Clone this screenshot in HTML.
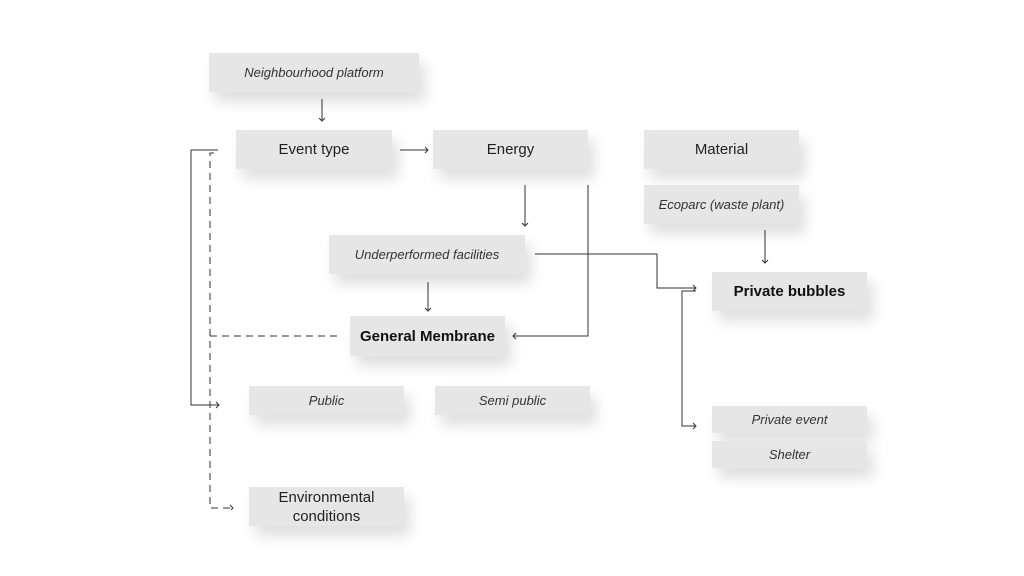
<!DOCTYPE html>
<html><head><style>
body{margin:0;width:1024px;height:576px;background:#fff;position:relative;overflow:hidden;font-family:"Liberation Sans",sans-serif;}
.b{position:absolute;background:#e6e6e6;box-shadow:6px 10px 14px rgba(0,0,0,0.13);display:flex;align-items:center;justify-content:center;text-align:center;color:#222;}
.i{font-style:italic;font-size:13px;color:#333;}
.n{font-size:15px;}
.bo{font-weight:bold;font-size:15px;color:#111;}
svg{position:absolute;left:0;top:0;}
</style></head><body>
<div class="b i" style="left:209px;top:53px;width:210px;height:39px">Neighbourhood platform</div>
<div class="b n" style="left:236px;top:130px;width:156px;height:39px">Event type</div>
<div class="b n" style="left:433px;top:130px;width:155px;height:39px">Energy</div>
<div class="b n" style="left:644px;top:130px;width:155px;height:39px">Material</div>
<div class="b i" style="left:644px;top:185px;width:155px;height:39px">Ecoparc (waste plant)</div>
<div class="b i" style="left:329px;top:235px;width:196px;height:39px">Underperformed facilities</div>
<div class="b bo" style="left:350px;top:316px;width:155px;height:40px">General Membrane</div>
<div class="b bo" style="left:712px;top:272px;width:155px;height:39px">Private bubbles</div>
<div class="b i" style="left:249px;top:386px;width:155px;height:29px">Public</div>
<div class="b i" style="left:435px;top:386px;width:155px;height:29px">Semi public</div>
<div class="b n" style="left:249px;top:487px;width:155px;height:39px;line-height:19px">Environmental<br>conditions</div>
<div class="b i" style="left:712px;top:406px;width:155px;height:27px">Private event</div>
<div class="b i" style="left:712px;top:441px;width:155px;height:27px">Shelter</div>
<svg width="1024" height="576" fill="none" stroke="#333" stroke-width="1">
<path d="M322 99V121M319 118l3 3 3-3"/>
<path d="M400 150H428M425 147l3 3-3 3"/>
<path d="M525 185V226M522 223l3 3 3-3"/>
<path d="M428 282V311M425 308l3 3 3-3"/>
<path d="M765 230V263M762 260l3 3 3-3"/>
<path d="M218 150H191V405H219M216 402l3 3-3 3"/>
<path d="M214 153H210V508H233M230 505l3 3-3 3" stroke-dasharray="7,5"/>
<path d="M210 336H340" stroke-dasharray="7,5"/>
<path d="M588 185V336H513M516 333l-3 3 3 3"/>
<path d="M535 254H657V288H696M693 285l3 3-3 3"/>
<path d="M696 291H682V426H696M693 423l3 3-3 3"/>
</svg>
</body></html>
